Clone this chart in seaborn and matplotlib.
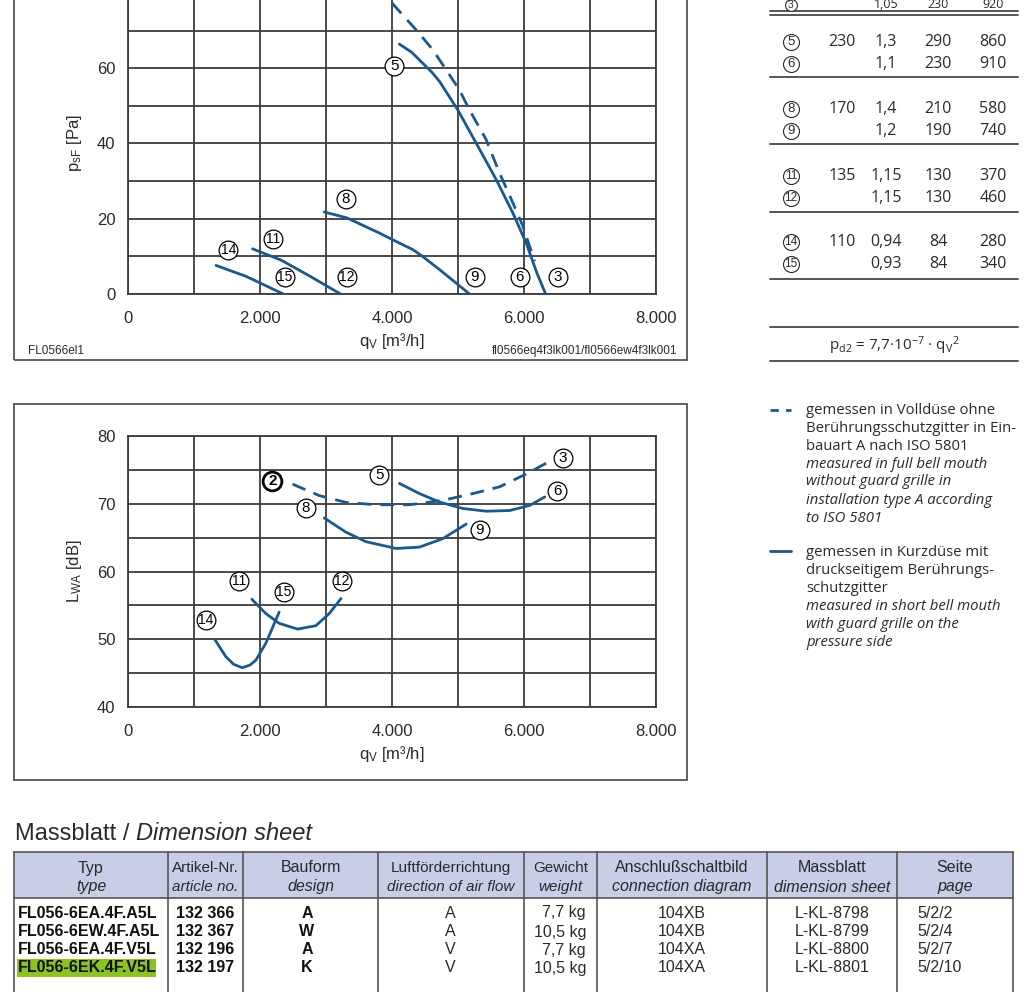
import matplotlib
matplotlib.use("Agg")
import matplotlib.pyplot as plt
import seaborn as sns
import pandas as pd
from matplotlib import font_manager
from matplotlib.patches import Rectangle
from matplotlib.lines import Line2D
from matplotlib.ticker import FixedLocator, FuncFormatter

# ---------------- data ----------------
# pressure curves p_sF [Pa] vs q_V [m3/h]
p_dash3_q = [4000, 4390, 4617, 4820, 5022, 5174, 5427, 5630, 5832, 5984, 6160]
p_dash3_p = [77.3, 69.7, 64.9, 59.6, 54.2, 48.9, 41.0, 32.1, 24.2, 18.0, 8.7]
p_56_q = [4111, 4300, 4466, 4600, 4719, 4997, 5275, 5579, 5832, 6034, 6195, 6328]
p_56_p = [66.4, 64.2, 61.3, 59.0, 56.5, 48.9, 40.1, 30.4, 21.5, 13.5, 5.6, 0.0]
p_89_q = [2973, 3320, 3808, 4000, 4314, 4447, 4719, 5174]
p_89_p = [21.8, 20.2, 16.2, 14.5, 11.8, 10.2, 6.5, 0.0]
p_1112_q = [1887, 2320, 2720, 3220]
p_1112_p = [12.0, 9.0, 5.1, 0.0]
p_1415_q = [1333, 1787, 2053, 2353]
p_1415_p = [7.6, 4.7, 2.5, 0.0]

# sound power curves L_WA [dB]
l_dash23_q = [2493, 2898, 3303, 3758, 4264, 4770, 5226, 5630, 6035, 6339]
l_dash23_l = [72.9, 71.2, 70.2, 69.85, 69.85, 70.5, 71.5, 72.5, 74.4, 76.0]
l_56_q = [4112, 4416, 4720, 5074, 5428, 5782, 6086, 6314]
l_56_l = [73.0, 71.5, 70.25, 69.3, 68.9, 69.0, 69.75, 71.0]
l_89_q = [2974, 3303, 3606, 4062, 4416, 4770, 5124]
l_89_l = [67.9, 65.8, 64.4, 63.4, 63.6, 64.85, 67.0]
l_1112_q = [1876, 2088, 2290, 2569, 2847, 3050, 3227]
l_1112_l = [55.9, 53.8, 52.35, 51.5, 52.0, 53.8, 56.0]
l_1415_q = [1319, 1481, 1600, 1734, 1850, 1936, 2088, 2290]
l_1415_l = [49.9, 47.45, 46.3, 45.8, 46.2, 46.9, 49.4, 54.0]

# curve labels
p_lab_txt = ["5", "8", "11", "14", "15", "12", "9", "6", "3"]
p_lab_q = [4035, 3300, 2200, 1520, 2373, 3320, 5250, 5933, 6515]
p_lab_p = [60.7, 25.3, 14.6, 11.6, 4.4, 4.4, 4.4, 4.4, 4.4]
l_lab_txt = ["2", "5", "3", "6", "8", "9", "11", "15", "12", "14"]
l_lab_q = [2189, 3809, 6592, 6501, 2695, 5327, 1683, 2366, 3237, 1177]
l_lab_l = [73.4, 74.3, 76.8, 71.9, 69.3, 66.1, 58.6, 57.0, 58.6, 52.8]

# operating data table (right)
op_rows = [["3", "", "1,05", "230", "920"],
           ["5", "230", "1,3", "290", "860"],
           ["6", "", "1,1", "230", "910"],
           ["8", "170", "1,4", "210", "580"],
           ["9", "", "1,2", "190", "740"],
           ["11", "135", "1,15", "130", "370"],
           ["12", "", "1,15", "130", "460"],
           ["14", "110", "0,94", "84", "280"],
           ["15", "", "0,93", "84", "340"]]

legend_dash = ["gemessen in Volldüse ohne", "Berührungsschutzgitter in Ein-",
               "bauart A nach ISO 5801"]
legend_dash_it = ["measured in full bell mouth", "without guard grille in",
                  "installation type A according", "to ISO 5801"]
legend_solid = ["gemessen in Kurzdüse mit", "druckseitigem Berührungs-", "schutzgitter"]
legend_solid_it = ["measured in short bell mouth", "with guard grille on the",
                   "pressure side"]

hdr_de = ["Typ", "Artikel-Nr.", "Bauform", "Luftförderrichtung", "Gewicht",
          "Anschlußschaltbild", "Massblatt", "Seite"]
hdr_en = ["type", "article no.", "design", "direction of air flow", "weight",
          "connection diagram", "dimension sheet", "page"]
col_typ = ["FL056-6EA.4F.A5L", "FL056-6EW.4F.A5L", "FL056-6EA.4F.V5L", "FL056-6EK.4F.V5L"]
col_art = ["132 366", "132 367", "132 196", "132 197"]
col_bau = ["A", "W", "A", "K"]
col_luft = ["A", "A", "V", "V"]
col_gew = ["7,7 kg", "10,5 kg", "7,7 kg", "10,5 kg"]
col_ans = ["104XB", "104XB", "104XA", "104XA"]
col_mass = ["L-KL-8798", "L-KL-8799", "L-KL-8800", "L-KL-8801"]
col_seite = ["5/2/2", "5/2/4", "5/2/7", "5/2/10"]

# ---------------- style ----------------
sns.set_theme(style="white")
avail = {f.name for f in font_manager.fontManager.ttflist}
NARROW = "Liberation Sans Narrow" if "Liberation Sans Narrow" in avail else "Liberation Sans"
SANS = "Open Sans" if "Open Sans" in avail else "DejaVu Sans"
plt.rcParams["font.family"] = [NARROW, "DejaVu Sans"]
plt.rcParams["mathtext.default"] = "regular"

W, H = 1024, 992
fig = plt.figure(figsize=(W / 100, H / 100), dpi=100)
fig.patch.set_facecolor("white")

BLUE = "#175a91"
GRID = "#3c3c3c"
TXT = "#2a2a2a"


def fx(x):
    return x / W


def fy(y):
    return 1 - y / H


def add_ax(l, t, r, b):
    return fig.add_axes([fx(l), fy(b), (r - l) / W, (b - t) / H])


def thousands(v, pos):
    v = int(round(v))
    return "0" if v == 0 else f"{v:,}".replace(",", ".")


def style_axes(ax, ymin, ymax, ymaj, ymin_step):
    ax.set_xlim(0, 8000)
    ax.set_ylim(ymin, ymax)
    ax.xaxis.set_major_locator(FixedLocator([0, 2000, 4000, 6000, 8000]))
    ax.xaxis.set_minor_locator(FixedLocator(list(range(1000, 8000, 2000))))
    ax.xaxis.set_major_formatter(FuncFormatter(thousands))
    ax.yaxis.set_major_locator(FixedLocator(ymaj))
    ax.yaxis.set_minor_locator(FixedLocator(ymin_step))
    ax.grid(True, which="both", color=GRID, lw=1.3)
    ax.set_axisbelow(True)
    for s in ax.spines.values():
        s.set_color(GRID)
        s.set_linewidth(1.3)
    ax.tick_params(axis="both", which="both", direction="out", length=5, width=1.2,
                   color=GRID, labelsize=12, labelcolor=TXT, pad=4)
    ax.tick_params(axis="x", which="major", pad=7)
    ax.set_facecolor("white")


def draw(ax, q, v, dashed=False):
    df = pd.DataFrame({"q": q, "v": v})
    sns.lineplot(data=df, x="q", y="v", ax=ax, color=BLUE, lw=2.0, sort=False,
                 estimator=None, linestyle=(0, (5, 3.2)) if dashed else "-")


def circ_labels(ax, qs, vs, ts, bold_label="2"):
    for q, v, t in zip(qs, vs, ts):
        bold = (t == bold_label)
        ax.plot([q], [v], marker="o", ms=13.5, mfc="white", mec="black",
                mew=2.0 if bold else 0.9, ls="none", zorder=5)
        ax.text(q, v, t, ha="center", va="center", fontsize=11 if len(t) == 1 else 10,
                color="black", fontweight="bold" if bold else "normal", zorder=6)


# ---------------- outer frames ----------------
fig.add_artist(Rectangle((fx(14), fy(360)), (687 - 14) / W, 400 / H, fill=False,
                         ec="#555555", lw=1.3, transform=fig.transFigure))
fig.add_artist(Rectangle((fx(14), fy(780)), (687 - 14) / W, (780 - 404) / H, fill=False,
                         ec="#555555", lw=1.3, transform=fig.transFigure))

# ---------------- top chart ----------------
ax1 = add_ax(128, 294 - 80 * 3.764, 656, 294)
style_axes(ax1, 0, 80, [0, 20, 40, 60], [10, 30, 50, 70])
draw(ax1, p_dash3_q, p_dash3_p, dashed=True)
draw(ax1, p_56_q, p_56_p)
draw(ax1, p_89_q, p_89_p)
draw(ax1, p_1112_q, p_1112_p)
draw(ax1, p_1415_q, p_1415_p)
circ_labels(ax1, p_lab_q, p_lab_p, p_lab_txt, bold_label=None)
ax1.set_xlabel(r"q$_{V}$ [m³/h]", fontsize=12, color=TXT, labelpad=4)
ax1.set_ylabel(r"p$_{sF}$ [Pa]", fontsize=12, color=TXT, labelpad=9)
fig.text(fx(28), fy(351), "FL0566el1", fontsize=8.5, color=TXT, va="center", ha="left")
fig.text(fx(677), fy(351), "fl0566eq4f3lk001/fl0566ew4f3lk001", fontsize=8.5, color=TXT,
         va="center", ha="right")

# ---------------- bottom chart ----------------
ax2 = add_ax(128, 436, 656, 707)
style_axes(ax2, 40, 80, [40, 50, 60, 70, 80], [45, 55, 65, 75])
draw(ax2, l_dash23_q, l_dash23_l, dashed=True)
draw(ax2, l_56_q, l_56_l)
draw(ax2, l_89_q, l_89_l)
draw(ax2, l_1112_q, l_1112_l)
draw(ax2, l_1415_q, l_1415_l)
circ_labels(ax2, l_lab_q, l_lab_l, l_lab_txt, bold_label="2")
ax2.set_xlabel(r"q$_{V}$ [m³/h]", fontsize=12, color=TXT, labelpad=4)
ax2.set_ylabel(r"L$_{WA}$ [dB]", fontsize=12, color=TXT, labelpad=9)

# ---------------- right operating table ----------------
LC = "#555555"
for y in [11, 14.5, 77, 144, 212, 279, 327, 361]:
    fig.add_artist(Line2D([fx(770), fx(1018)], [fy(y), fy(y)], color=LC, lw=1.4,
                          transform=fig.transFigure))
row_y = [4.8, 42, 64, 109, 131, 176, 198, 242, 264]
col_x = [791, 842, 886, 938, 993]
for row, y in zip(op_rows, row_y):
    top = row[0] == "3"
    fs_c = 9.5 if not top else 7.5
    fig.add_artist(Line2D([fx(col_x[0])], [fy(y)], marker="o",
                          ms=11.5 if not top else 8.5, mfc="white", mec=TXT,
                          mew=0.8, transform=fig.transFigure))
    fig.text(fx(col_x[0]), fy(y), row[0], ha="center", va="center",
             fontsize=fs_c if len(row[0]) == 1 else fs_c - 1, color=TXT)
    for cx, val in zip(col_x[1:], row[1:]):
        fig.text(fx(cx), fy(y), val, ha="center", va="center",
                 fontsize=11.5 if not top else 9, family=SANS, color=TXT)
fig.text(fx(894), fy(346), r"p$_{d2}$ = 7,7·10$^{-7}$ · q$_{V}$$^{2}$", ha="center",
         va="center", fontsize=11, family=SANS, color=TXT)

# ---------------- legend text ----------------
fig.add_artist(Line2D([fx(770), fx(791)], [fy(410), fy(410)], color=BLUE, lw=2.0,
                      linestyle=(0, (3, 2.6)), transform=fig.transFigure))
fig.add_artist(Line2D([fx(770), fx(791)], [fy(551), fy(551)], color=BLUE, lw=2.0,
                      transform=fig.transFigure))
y = 410
for s in legend_dash:
    fig.text(fx(806), fy(y), s, fontsize=10.7, family=SANS, color=TXT, va="center")
    y += 18
for s in legend_dash_it:
    fig.text(fx(806), fy(y), s, fontsize=10.7, family=SANS, style="italic", color=TXT,
             va="center")
    y += 18
y = 553
for s in legend_solid:
    fig.text(fx(806), fy(y), s, fontsize=10.7, family=SANS, color=TXT, va="center")
    y += 18
for s in legend_solid_it:
    fig.text(fx(806), fy(y), s, fontsize=10.7, family=SANS, style="italic", color=TXT,
             va="center")
    y += 18

# ---------------- dimension sheet table ----------------
t1 = fig.text(fx(15), fy(834), "Massblatt / ", fontsize=17, color=TXT, va="center")
fig.canvas.draw()
bb = t1.get_window_extent()
fig.text(bb.x1 / W, fy(834), "Dimension sheet", fontsize=17, style="italic", color=TXT,
         va="center")

xb = [14, 168, 243, 378, 524, 597, 767, 897, 1013]
fig.add_artist(Rectangle((fx(14), fy(898)), (1013 - 14) / W, (898 - 852) / H,
                         fc="#c7cee5", ec="none", transform=fig.transFigure))
for yy in [852, 898]:
    fig.add_artist(Line2D([fx(14), fx(1013)], [fy(yy), fy(yy)], color=LC, lw=1.2,
                          transform=fig.transFigure))
for xx in xb:
    fig.add_artist(Line2D([fx(xx), fx(xx)], [fy(852), fy(995)], color=LC, lw=1.2,
                          transform=fig.transFigure))
for i in range(8):
    cx = (xb[i] + xb[i + 1]) / 2
    fs_h = 11 if i in (1, 3, 4) else 11.5
    fig.text(fx(cx), fy(868), hdr_de[i], ha="center", va="center", fontsize=fs_h, color=TXT)
    fig.text(fx(cx), fy(887), hdr_en[i], ha="center", va="center", fontsize=fs_h,
             style="italic", color=TXT)

row_y2 = [913, 932, 950, 968]
fig.add_artist(Rectangle((fx(17), fy(977)), (156 - 17) / W, 18 / H, fc="#8cc31e",
                         ec="none", transform=fig.transFigure))
for i, yy in enumerate(row_y2):
    fig.text(fx(18), fy(yy), col_typ[i], ha="left", va="center", fontsize=11.5,
             weight="bold", color="#111111")
    fig.text(fx(205), fy(yy), col_art[i], ha="center", va="center", fontsize=11.5,
             weight="bold", color="#111111")
    fig.text(fx(307), fy(yy), col_bau[i], ha="center", va="center", fontsize=11.5,
             weight="bold", color="#111111")
    fig.text(fx(450), fy(yy), col_luft[i], ha="center", va="center", fontsize=11.5,
             color=TXT)
    fig.text(fx(586), fy(yy), col_gew[i], ha="right", va="center", fontsize=11.5, color=TXT)
    fig.text(fx(682), fy(yy), col_ans[i], ha="center", va="center", fontsize=11.5,
             color=TXT)
    fig.text(fx(832), fy(yy), col_mass[i], ha="center", va="center", fontsize=11.5,
             color=TXT)
    fig.text(fx(917), fy(yy), col_seite[i], ha="left", va="center", fontsize=11.5,
             color=TXT)

fig.savefig("out.png", dpi=100, facecolor="white")
